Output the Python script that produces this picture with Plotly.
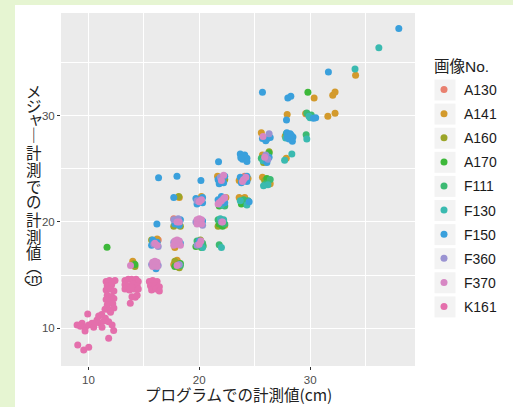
import plotly.graph_objects as go

# ---------------- data ----------------
series_names = ["A130", "A141", "A160", "A170", "F111", "F130", "F150", "F360", "F370", "K161"]
series_colors = ["#E9806F", "#D39A2C", "#9BA528", "#3DB83A", "#3CBA73",
                 "#3ABAB0", "#3AA0DC", "#9A93D2", "#D787C4", "#E46FAC"]

x_A130 = [29.65, 24.1, 17.7, 16.3, 18.1, 22.2, 20.2]
y_A130 = [30.15, 24.3, 20.3, 18.3, 16.2, 24.1, 17.9]

x_A141 = [34.1, 30.36, 32.04, 32.25, 27.93, 29.6, 31.6, 32.25, 25.6, 27.75, 25.7, 27.85, 25.7, 26.4,
          23.6, 24.4, 21.65, 24.1, 23.6, 22.4, 20.2, 18.2, 22.3, 17.8, 16.2, 18.0, 17.7, 14.0]
y_A141 = [33.8, 31.67, 31.92, 32.23, 30.1, 30.2, 29.94, 30.23, 28.4, 28.06, 26.3, 26.0, 24.2, 23.6,
          23.9, 24.1, 24.3, 22.3, 22.3, 22.3, 22.4, 22.3, 19.7, 17.6, 18.4, 16.4, 16.0, 16.3]

x_A160 = [25.8, 25.9, 22.3, 18.15, 21.7, 17.7, 18.3, 20.1, 15.7, 17.8, 18.2, 14.1, 14.2, 26.3]
y_A160 = [25.6, 23.9, 24.0, 22.4, 19.6, 19.6, 19.6, 18.3, 18.3, 16.3, 15.7, 16.1, 15.8, 26.6]

x_A170 = [29.8, 26.3, 26.1, 23.8, 24.2, 21.8, 21.8, 22.1, 19.7, 20.2, 11.68, 17.8, 18.3, 14.2, 20.35]
y_A170 = [32.2, 26.5, 24.1, 21.7, 21.8, 21.5, 19.8, 19.6, 17.7, 17.6, 17.62, 15.8, 16.1, 16.0, 17.75]

x_F111 = [29.7, 30.1, 27.85, 29.64, 25.6, 26.0, 24.0, 24.4, 22.3, 21.7, 22.3, 21.8, 19.8, 20.3, 18.3, 26.4]
y_F111 = [30.25, 30.07, 28.3, 28.2, 26.0, 23.6, 22.1, 22.0, 21.5, 20.2, 19.8, 17.85, 18.2, 18.0, 15.9, 24.0]

x_F130 = [36.2, 34.05, 30.0, 29.9, 27.8, 29.7, 25.75, 27.7, 28.35, 26.2, 25.8, 21.8, 23.7, 24.3,
          22.0, 22.2, 21.9, 22.0, 20.3, 23.8]
y_F130 = [36.4, 34.4, 29.8, 29.95, 27.9, 27.8, 25.75, 25.8, 26.4, 23.5, 23.4, 23.8, 22.0, 21.6,
          21.6, 20.2, 20.3, 17.6, 17.6, 26.1]

x_F150 = [38.0, 31.65, 25.7, 27.99, 28.26, 27.87, 30.3, 30.5,
          25.7, 26.1, 26.4, 26.0,
          27.9, 28.2, 28.45, 28.1, 28.4, 27.95, 28.3,
          23.7, 24.1, 24.3, 23.9, 24.0, 24.3, 23.75,
          26.3, 26.1, 21.74,
          23.7, 24.3, 23.8, 24.3,
          21.7, 22.3, 21.8, 22.2,
          16.33, 17.99, 20.15, 24.5,
          21.7, 22.3, 22.0,
          19.7, 20.3, 19.8, 20.3,
          17.7, 17.8, 18.3, 18.2, 20.3, 16.18, 20.0, 18.3,
          15.8, 16.2, 15.7, 16.1]
y_F150 = [38.2, 34.1, 32.2, 31.67, 31.82, 29.6, 29.75, 29.8,
          27.85, 27.8, 27.95, 27.65,
          28.4, 28.3, 28.0, 27.8, 27.6, 27.95, 28.15,
          26.4, 26.3, 26.0, 25.9, 26.2, 25.7, 26.05,
          26.1, 25.6, 25.67,
          24.2, 24.3, 23.7, 23.8,
          24.0, 24.3, 23.6, 23.7,
          24.17, 24.3, 23.9, 21.9,
          22.1, 21.8, 22.4,
          22.2, 22.3, 21.7, 21.8,
          22.3, 19.8, 20.2, 19.7, 20.1, 19.8, 18.2, 18.0,
          18.3, 18.1, 17.8, 15.6]

x_F360 = [26.3, 26.0, 26.2, 21.9, 20.1, 19.8, 22.0, 19.7, 17.7, 18.1, 19.8, 17.7, 15.9, 16.3, 18.2, 15.7, 16.3, 20.3]
y_F360 = [28.3, 26.3, 25.9, 24.2, 22.0, 22.0, 20.0, 20.0, 20.2, 20.3, 17.8, 18.1, 17.9, 17.7, 16.0, 16.0, 15.9, 19.7]

x_F370 = [25.75, 25.9, 24.0, 24.2, 23.9, 22.0, 22.2, 21.8, 22.0, 22.2, 22.3, 21.7, 20.0, 20.2, 22.1,
          19.8, 20.2, 20.0, 19.8, 20.2, 20.0, 18.0, 18.2, 20.0, 17.8, 18.2, 18.0, 17.7, 18.3, 18.0,
          16.0, 16.2, 18.0, 15.8, 16.2, 16.0, 15.8, 16.2, 16.0, 13.8, 20.15]
y_F370 = [28.05, 26.1, 24.0, 24.2, 23.8, 23.9, 24.4, 21.8, 22.0, 22.2, 22.3, 21.7, 21.9, 22.1, 20.0,
          20.2, 20.2, 19.9, 19.8, 19.8, 20.3, 20.0, 20.0, 17.9, 18.2, 18.2, 17.9, 17.8, 17.8, 18.3,
          18.0, 17.8, 15.9, 16.2, 16.2, 15.9, 15.8, 15.8, 16.3, 15.9, 18.2]

x_K161 = [13.3, 13.6, 13.9, 14.3, 14.5, 13.3, 13.6, 14.0, 14.4, 13.3, 13.7, 14.1, 14.5, 13.9,
          13.93, 14.23, 13.78, 14.4,
          15.5, 15.8, 16.2, 15.6, 16.0, 16.4, 15.7, 16.1, 16.4,
          11.6, 11.9, 12.2, 12.4, 11.7, 12.1, 11.6, 12.0, 12.3, 11.7, 12.1, 11.6, 12.0, 12.3,
          11.7, 12.2, 11.5, 11.9, 12.3, 12.0,
          9.94, 8.98, 9.43, 9.73, 10.03, 10.33, 10.48, 10.78, 10.93, 11.08, 11.38, 11.23, 11.53,
          11.83, 12.14, 12.28, 11.83, 9.04, 9.58, 10.03, 9.28, 9.7, 11.2, 10.6]
y_K161 = [14.5, 14.6, 14.6, 14.6, 14.4, 14.1, 14.0, 14.2, 14.0, 13.7, 13.6, 13.7, 13.7, 13.9,
          12.97, 12.92, 12.35, 13.1,
          14.4, 14.5, 14.4, 14.0, 14.0, 13.9, 13.6, 13.7, 13.5,
          14.4, 14.5, 14.4, 14.5, 14.0, 14.1, 13.6, 13.7, 13.5, 13.1, 13.0, 12.7, 12.6, 12.8,
          12.2, 12.3, 11.8, 11.7, 11.9, 11.5,
          11.35, 10.31, 10.47, 10.09, 10.31, 10.47, 10.09, 10.78, 11.16, 10.47, 10.69, 10.09, 10.94,
          10.62, 10.31, 9.78, 9.06, 8.43, 7.96, 8.21, 10.2, 9.75, 11.3, 10.5]

x_ticks = [10, 20, 30]
y_ticks = [10, 20, 30]
x_title = "プログラムでの計測値(cm)"
y_title_chars = ["メ", "ジ", "ャ", "｜", "計", "測", "で", "の", "計", "測", "値", "︵", "cm", "︶"]
legend_title = "画像No."

series_x = {"A130": x_A130, "A141": x_A141, "A160": x_A160, "A170": x_A170, "F111": x_F111,
            "F130": x_F130, "F150": x_F150, "F360": x_F360, "F370": x_F370, "K161": x_K161}
series_y = {"A130": y_A130, "A141": y_A141, "A160": y_A160, "A170": y_A170, "F111": y_F111,
            "F130": y_F130, "F150": y_F150, "F360": y_F360, "F370": y_F370, "K161": y_K161}

# ---------------- layout geometry (pixels) ----------------
W, H = 513, 407
L, R, T, B = 61, 98, 13, 41
PW, PH = W - L - R, H - T - B


def px2x(px):
    return (px - L) / PW


def py2y(py):
    return (H - B - py) / PH


fig = go.Figure()
for name, col in zip(series_names, series_colors):
    fig.add_trace(go.Scatter(
        x=series_x[name], y=series_y[name], mode="markers", name=name,
        legendgroup=name,
        marker=dict(color=col, size=7, line=dict(width=0)),
    ))

CJK = "Noto Sans CJK JP"
LAT = "Liberation Sans, Arial, Noto Sans CJK JP"

annotations = [
    dict(text=x_title, x=0.5, y=py2y(393.5), xref="paper", yref="paper",
         xanchor="center", yanchor="middle", showarrow=False,
         font=dict(family=CJK, size=15.5, color="#222222")),
    dict(text=legend_title, x=px2x(432), y=py2y(66), xref="paper", yref="paper",
         xanchor="left", yanchor="middle", showarrow=False,
         font=dict(family=LAT, size=15.5, color="#222222")),
]
y_title_pos = [91, 105, 117, 134, 152, 169, 186, 201, 219, 236, 252, 266, 277, 288]
for ch, py in zip(y_title_chars, y_title_pos):
    dx = 2 if ch == "ャ" else 0
    fs = 13 if ch == "cm" else 15.5
    annotations.append(dict(text=ch, x=px2x(33.5 + dx), y=py2y(py), xref="paper", yref="paper",
                            xanchor="center", yanchor="middle", showarrow=False,
                            font=dict(family=CJK, size=fs, color="#222222")))

shapes = [
    # light green page border
    dict(type="rect", xref="paper", yref="paper", x0=px2x(-2), x1=px2x(15), y0=py2y(H + 2), y1=py2y(-2),
         fillcolor="#e6f5d2", line=dict(width=0), layer="below"),
    dict(type="rect", xref="paper", yref="paper", x0=px2x(-2), x1=px2x(W + 2), y0=py2y(5), y1=py2y(-2),
         fillcolor="#e6f5d2", line=dict(width=0), layer="below"),
]
for i in range(len(series_names)):
    cy = 90 + 24.1 * i
    shapes.append(dict(type="rect", xref="paper", yref="paper",
                       x0=px2x(434.5), x1=px2x(455.5), y0=py2y(cy + 10.5), y1=py2y(cy - 10.5),
                       fillcolor="#f3f3f3", line=dict(width=0), layer="below"))

axis_common = dict(
    showgrid=True, gridcolor="white", gridwidth=1.1, zeroline=False,
    ticks="outside", ticklen=3, tickwidth=1, tickcolor="#333333",
    tickfont=dict(family=LAT, size=11.5, color="#4d4d4d"),
    showline=False,
)

fig.update_layout(
    width=W, height=H,
    margin=dict(l=L, r=R, t=T, b=B, pad=0, autoexpand=False),
    paper_bgcolor="white", plot_bgcolor="#ebebeb",
    showlegend=True,
    legend=dict(x=px2x(424), y=py2y(74), xanchor="left", yanchor="top",
                font=dict(family=LAT, size=14, color="#1a1a1a"),
                bgcolor="rgba(0,0,0,0)", borderwidth=0, tracegroupgap=2.9,
                itemwidth=30),
    annotations=annotations,
    shapes=shapes,
    xaxis=dict(range=[7.53, 39.46], tickvals=x_ticks,
               minor=dict(tickvals=[15, 25, 35], showgrid=True, gridcolor="white", gridwidth=0.55, ticks=""),
               **axis_common),
    yaxis=dict(range=[6.45, 39.66], tickvals=y_ticks,
               minor=dict(tickvals=[15, 25, 35], showgrid=True, gridcolor="white", gridwidth=0.55, ticks=""),
               **axis_common),
)

fig.write_html("out.html", config={"displayModeBar": False},
               post_script="document.body.style.margin='0';document.body.style.padding='0';")
